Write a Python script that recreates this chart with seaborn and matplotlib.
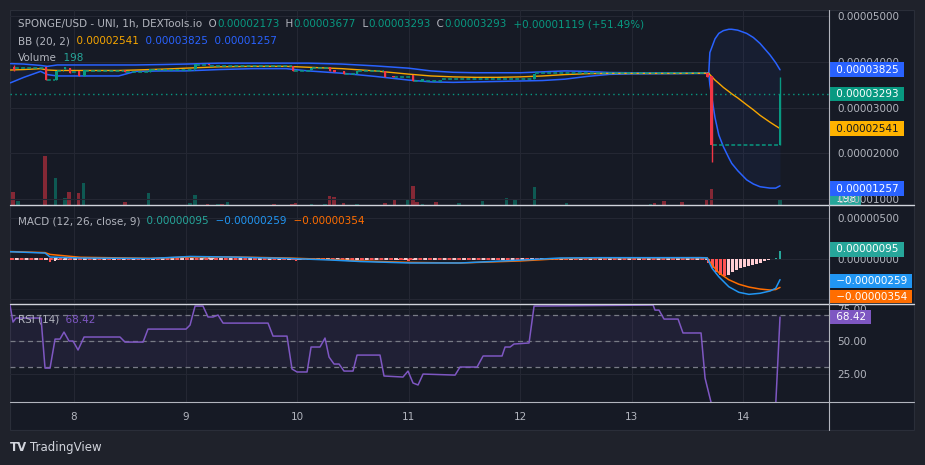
import matplotlib
matplotlib.use("Agg")
import matplotlib.pyplot as plt
from matplotlib.lines import Line2D
from matplotlib.patches import Rectangle
from matplotlib.transforms import Bbox, TransformedBbox
import numpy as np
import seaborn as sns

BG = "#161a25"
OUTER = "#1f222b"
GRID = "#242733"
GRAY = "#b2b5be"
SEP = "#d1d4dc"
UP = "#089981"
DOWN = "#f23645"
BB_BLUE = "#2962ff"
BB_MID = "#f7a600"
FS = 7.5

sns.set_theme(style="dark", rc={
    "axes.facecolor": BG, "figure.facecolor": OUTER, "grid.color": GRID,
    "text.color": GRAY, "xtick.color": GRAY, "ytick.color": GRAY,
    "axes.edgecolor": BG,
})
plt.rcParams["font.family"] = ["DejaVu Sans"]

# prices in 1e-5 USD, MACD in 1e-6, x in days of the month
candle_day = [7.462, 7.749, 7.839, 7.919, 7.964, 8.045, 8.090, 8.457, 8.681, 9.085,
              9.210, 9.963, 10.125, 10.295, 10.331, 10.420, 10.537, 10.788, 10.860,
              11.039, 11.120, 12.124, 13.675, 13.715, 14.329]
candle_open = [3.886, 3.886, 3.602, 3.836, 3.853, 3.792, 3.689, 3.80, 3.78, 3.842,
               3.951, 3.908, 3.81, 3.88, 3.81, 3.79, 3.74, 3.79, 3.69,
               3.718, 3.59, 3.630, 3.75, 3.689, 2.173]
candle_close = [3.820, 3.602, 3.799, 3.893, 3.755, 3.689, 3.820, 3.78, 3.84, 3.951,
                3.92, 3.805, 3.86, 3.80, 3.78, 3.74, 3.80, 3.67, 3.66,
                3.587, 3.62, 3.740, 3.67, 2.173, 3.293]
candle_high = [3.93, 3.886, 3.799, 3.893, 3.853, 3.792, 3.820, 3.80, 3.84, 3.951,
               3.951, 3.908, 3.86, 3.88, 3.81, 3.79, 3.80, 3.79, 3.69,
               3.718, 3.62, 3.740, 3.75, 3.689, 3.677]
candle_low = [3.80, 3.602, 3.602, 3.836, 3.755, 3.689, 3.689, 3.78, 3.78, 3.842,
              3.92, 3.805, 3.81, 3.80, 3.78, 3.74, 3.74, 3.67, 3.66,
              3.587, 3.59, 3.630, 3.67, 1.817, 2.173]

flat_start = [7.47, 7.76, 7.85, 7.98, 8.10, 8.47, 8.69, 9.09, 9.22, 9.97, 10.13,
              10.43, 10.55, 10.87, 11.05, 11.30, 12.13, 13.73]
flat_end = [7.74, 7.83, 7.91, 8.04, 8.45, 8.67, 9.08, 9.20, 9.95, 10.12, 10.29,
            10.53, 10.78, 11.03, 11.30, 12.12, 13.67, 14.32]
flat_price = [3.86, 3.60, 3.80, 3.78, 3.80, 3.78, 3.82, 3.93, 3.90, 3.805, 3.86,
              3.74, 3.79, 3.66, 3.59, 3.63, 3.745, 2.173]

bb_day = [7.43, 7.55, 7.70, 7.76, 7.85, 8.1, 8.4, 8.55, 8.8, 9.0, 9.3, 9.6, 9.9,
          10.1, 10.4, 10.7, 11.0, 11.2, 11.4, 11.6, 11.8, 12.0, 12.2, 12.4, 12.6,
          12.8, 13.0, 13.4, 13.69, 13.70, 13.746, 13.78, 13.821, 13.87, 13.896,
          13.95, 14.03, 14.09, 14.15, 14.239, 14.29, 14.329]
bb_upper = [3.96, 3.95, 3.92, 3.90, 3.93, 3.93, 3.93, 3.93, 3.94, 3.95, 3.97, 3.97,
            3.97, 3.97, 3.95, 3.91, 3.86, 3.80, 3.77, 3.76, 3.76, 3.76, 3.78, 3.80,
            3.79, 3.765, 3.76, 3.755, 3.755, 4.20, 4.50, 4.62, 4.68, 4.71, 4.71,
            4.69, 4.62, 4.53, 4.40, 4.15, 3.98, 3.825]
bb_basis = [3.82, 3.83, 3.85, 3.82, 3.81, 3.81, 3.81, 3.82, 3.84, 3.86, 3.89, 3.90,
            3.90, 3.88, 3.85, 3.80, 3.73, 3.69, 3.67, 3.66, 3.66, 3.67, 3.69, 3.72,
            3.74, 3.745, 3.745, 3.745, 3.75, 3.72, 3.60, 3.53, 3.44, 3.35, 3.30,
            3.21, 3.06, 2.95, 2.83, 2.68, 2.60, 2.541]
bb_lower = [3.54, 3.66, 3.79, 3.72, 3.69, 3.69, 3.69, 3.79, 3.80, 3.80, 3.83, 3.85,
            3.85, 3.80, 3.75, 3.68, 3.60, 3.56, 3.55, 3.56, 3.57, 3.58, 3.59, 3.62,
            3.68, 3.725, 3.735, 3.74, 3.745, 3.50, 2.78, 2.40, 2.145, 1.90, 1.78,
            1.62, 1.42, 1.33, 1.27, 1.24, 1.24, 1.29]

vol_day = [7.453, 7.498, 7.740, 7.834, 7.919, 7.955, 8.040, 8.085, 8.457, 8.668,
           9.040, 9.085, 9.197, 9.291, 9.327, 9.372, 9.793, 9.954, 9.990, 10.125,
           10.250, 10.290, 10.331, 10.416, 10.537, 10.788, 10.869, 10.994, 11.039,
           11.075, 11.120, 11.245, 11.451, 11.658, 11.873, 11.953, 12.124, 12.411,
           13.164, 13.200, 13.289, 13.450, 13.670, 13.715, 14.329]
vol_value = [420, 130, 1620, 890, 230, 430, 400, 730, 100, 400,
             66, 330, 35, 35, 35, 100, 35, 35, 66, 35,
             35, 300, 260, 66, 35, 66, 200, 165, 630,
             100, 35, 100, 66, 130, 230, 200, 590, 66,
             35, 66, 130, 100, 165, 530, 198]
vol_up = [0, 1, 0, 1, 1, 0, 0, 1, 0, 1,
          1, 1, 0, 1, 0, 1, 0, 0, 0, 1,
          1, 0, 0, 0, 1, 0, 0, 1, 0,
          0, 1, 0, 1, 1, 1, 1, 1, 1,
          1, 0, 0, 0, 0, 0, 1]

macd_day = [7.426, 7.740, 7.785, 8.054, 8.681, 9.040, 9.398, 9.936, 10.295, 10.564,
            11.012, 11.460, 12.000, 12.357, 12.715, 13.612, 13.675, 13.72, 13.78,
            13.87, 13.96, 14.05, 14.15, 14.24, 14.29, 14.329]
macd_line = [0.83, 0.67, 0.18, 0.06, 0.0, 0.25, 0.18, 0.0, -0.18, -0.37,
             -0.55, -0.55, -0.20, 0.06, 0.10, 0.10, 0.08, -1.2, -2.23,
             -3.46, -4.14, -4.39, -4.26, -3.98, -3.65, -2.59]
macd_signal = [0.85, 0.72, 0.50, 0.15, 0.02, 0.18, 0.20, 0.05, -0.12, -0.30,
               -0.48, -0.55, -0.30, -0.02, 0.08, 0.10, 0.09, -0.8, -1.75,
               -2.6, -3.15, -3.50, -3.74, -3.86, -3.80, -3.54]
hist_pre_day = [7.74, 7.785, 7.83, 7.87, 7.91, 7.96, 8.0, 9.17, 9.21, 9.25,
                9.95, 9.99, 10.03, 10.90, 10.95, 11.0, 11.04]
hist_pre = [-0.2, -0.45, -0.3, -0.2, -0.15, -0.15, -0.1, 0.2, 0.15, 0.1,
            -0.2, -0.25, -0.15, -0.15, -0.2, -0.25, -0.15]
hist_crash = [-0.6, -1.2, -1.63, -1.96, -2.12, -1.96, -1.63, -1.43, -1.22, -1.10,
              -0.94, -0.82, -0.65, -0.49, -0.33, -0.20, -0.12, 0.12, 0.95]

rsi_day = [7.426, 7.453, 7.480, 7.704, 7.740, 7.785, 7.830, 7.874, 7.910, 7.955,
           7.991, 8.036, 8.090, 8.412, 8.457, 8.619, 8.663, 9.004, 9.040, 9.085,
           9.156, 9.201, 9.246, 9.291, 9.336, 9.739, 9.784, 9.909, 9.954, 9.999,
           10.089, 10.125, 10.205, 10.250, 10.286, 10.331, 10.376, 10.420, 10.501,
           10.537, 10.743, 10.779, 10.949, 10.994, 11.039, 11.084, 11.129, 11.416,
           11.460, 11.613, 11.667, 11.837, 11.864, 11.909, 11.944, 12.079, 12.124,
           13.191, 13.208, 13.244, 13.289, 13.415, 13.459, 13.621, 13.657, 13.710,
           13.75, 14.29, 14.329]
rsi_value = [77.7, 64.6, 67.7, 67.7, 29.2, 29.2, 51.5, 51.5, 56.9, 50.0,
             50.0, 43.1, 53.1, 53.1, 49.2, 49.2, 59.2, 59.2, 62.3, 76.9,
             76.9, 68.5, 68.5, 70.0, 63.8, 63.8, 53.8, 53.8, 28.5, 26.2,
             26.2, 45.4, 45.4, 52.3, 37.7, 32.3, 32.3, 26.9, 26.9,
             39.2, 39.2, 23.1, 22.3, 26.9, 17.7, 16.2, 24.6, 23.8,
             30.0, 30.0, 38.5, 38.5, 45.4, 45.4, 47.7, 48.5, 76.9,
             77.7, 73.8, 73.8, 66.9, 66.9, 56.2, 56.2, 21.5, 3.0,
             0.5, 0.5, 68.42]

day_ticks = [8, 9, 10, 11, 12, 13, 14]
last_price = 3.293

W, H = 925, 465


def rect(x0, y0, x1, y1):
    return [x0 / W, 1 - y1 / H, (x1 - x0) / W, (y1 - y0) / H]


def fig_line(xs, ys, color=SEP, lw=1.0):
    fig.add_artist(Line2D([x / W for x in xs], [1 - y / H for y in ys],
                          color=color, lw=lw, zorder=5))


def legend_row(ax, y, parts):
    t = ax.text(8 / 819, y, parts[0][0], color=parts[0][1], fontsize=FS,
                transform=ax.transAxes, va="center", ha="left", zorder=8)
    for s, c in parts[1:]:
        t = ax.annotate(s, xy=(1, 0.5), xycoords=t, va="center", ha="left",
                        color=c, fontsize=FS, zorder=8)


def tag(ax, y, text, fc, tc="white", dy=0, clip=None):
    t = ax.annotate(" " + text + " ", xy=(1, y), xycoords=("axes fraction", "data"),
                    xytext=(2.6, dy), textcoords="offset points", va="center",
                    ha="left", fontsize=FS, color=tc, zorder=9,
                    bbox=dict(boxstyle="square,pad=0.22", fc=fc, ec="none"),
                    annotation_clip=False)
    if clip is not None:
        t.set_clip_box(clip)
        t.set_clip_on(True)
    return t


def hist_colors(values):
    cols, prev = [], 0.0
    for v in values:
        if v >= 0:
            cols.append("#26a69a" if v >= prev else "#b2dfdb")
        else:
            cols.append("#ff5252" if v < prev else "#ffcdd2")
        prev = v
    return cols


fig = plt.figure(figsize=(W / 100, H / 100), dpi=100)
fig.add_artist(Rectangle((10 / W, 1 - 430 / H), 904 / W, 420 / H,
                         transform=fig.transFigure, fc=BG, ec="#2a2e39",
                         lw=0.8, zorder=-1))

ax = fig.add_axes(rect(10, 10, 829, 205))
ax_macd = fig.add_axes(rect(10, 206, 829, 303))
ax_rsi = fig.add_axes(rect(10, 304, 829, 402))
axv = ax.twinx()

for a in (ax, ax_macd, ax_rsi, axv):
    a.set_facecolor("none")
    for s in a.spines.values():
        s.set_visible(False)
    a.set_xlim(7.426, 14.768)
ax.set_zorder(3)
axv.set_zorder(2)

for a in (ax, ax_macd, ax_rsi):
    a.set_xticks(day_ticks)
    a.grid(True, color=GRID, lw=0.8)
    a.yaxis.tick_right()
    a.tick_params(axis="y", length=0, pad=5.8, labelsize=FS, labelcolor=GRAY)
    a.tick_params(axis="x", length=0)
ax.tick_params(axis="x", labelbottom=False)
ax_macd.tick_params(axis="x", labelbottom=False)
ax_rsi.tick_params(axis="x", labelsize=FS, labelcolor=GRAY, pad=7)
ax_rsi.set_xticklabels([str(d) for d in day_ticks])

# ---- price panel ----
ax.set_ylim(0.871, 5.131)
ax.set_yticks([1, 2, 3, 4, 5])
ax.set_yticklabels([f"{v * 1e-5:.8f}" for v in [1, 2, 3, 4, 5]])

axv.set_ylim(0, 6435)
axv.set_yticks([])
axv.grid(False)
axv.bar(vol_day, vol_value, width=0.028,
        color=[UP if u else DOWN for u in vol_up], alpha=0.5, lw=0)

ax.fill_between(bb_day, bb_lower, bb_upper, color=BB_BLUE, alpha=0.06, lw=0)
sns.lineplot(x=bb_day, y=bb_upper, ax=ax, color=BB_BLUE, lw=1.1)
sns.lineplot(x=bb_day, y=bb_lower, ax=ax, color=BB_BLUE, lw=1.1)
sns.lineplot(x=bb_day, y=bb_basis, ax=ax, color=BB_MID, lw=1.0)

ax.hlines(flat_price, flat_start, flat_end, colors=UP, lw=1.1,
          linestyles=(0, (2.5, 1.5)), zorder=4)
ax.axhline(last_price, color=UP, lw=1.0, ls=(0, (1, 2.5)), zorder=2)

for d, o, h, l, c in zip(candle_day, candle_open, candle_high, candle_low, candle_close):
    col = UP if c >= o else DOWN
    ax.vlines(d, l, h, color=col, lw=1.0, zorder=5)
    ax.bar(d, max(abs(c - o), 0.03), bottom=min(o, c), width=0.026,
           color=col, lw=0, zorder=5)
ax.set_xlabel("")
ax.set_ylabel("")

legend_row(ax, 0.928, [("SPONGE/USD - UNI, 1h, DEXTools.io", GRAY), ("  O", GRAY),
                       ("0.00002173", UP), ("  H", GRAY), ("0.00003677", UP),
                       ("  L", GRAY), ("0.00003293", UP), ("  C", GRAY),
                       ("0.00003293", UP), ("  +0.00001119 (+51.49%)", UP)])
legend_row(ax, 0.841, [("BB (20, 2)", GRAY), ("  0.00002541", BB_MID),
                       ("  0.00003825", BB_BLUE), ("  0.00001257", BB_BLUE)])
legend_row(ax, 0.754, [("Volume", GRAY), ("  198", "#26a69a")])

main_clip = TransformedBbox(Bbox.from_extents(10 / W, 1 - 205 / H, 914 / W, 1 - 10 / H),
                            fig.transFigure)
tag(ax, bb_upper[-1], "0.00003825", BB_BLUE)
tag(ax, last_price, "0.00003293", UP)
tag(ax, bb_basis[-1], "0.00002541", "#ffb300", tc="#131722")
tag(ax, bb_lower[-1], "0.00001257", BB_BLUE, dy=-2)
tag(axv, vol_value[-1], "198", "#26a69a", clip=main_clip)

# ---- MACD panel ----
ax_macd.set_ylim(-5.45, 6.43)
ax_macd.set_yticks([5, 0, -5])
ax_macd.set_yticklabels([f"{v * 1e-6:.8f}" for v in [5, 0, -5]])
ax_macd.hlines(0, 7.43, 13.68, colors="#ff5252", lw=1.4, linestyles=(0, (2, 3)))
ax_macd.hlines(0, 7.43, 13.68, colors="#ffcdd2", lw=1.4, linestyles=(2.5, (2, 3)))
ax_macd.bar(hist_pre_day, hist_pre, width=0.025, color=hist_colors(hist_pre), lw=0)
crash_x = np.linspace(13.69, 14.329, len(hist_crash))
ax_macd.bar(crash_x, hist_crash, width=0.025, color=hist_colors(hist_crash), lw=0)
sns.lineplot(x=macd_day, y=macd_signal, ax=ax_macd, color="#ff6d00", lw=1.1)
sns.lineplot(x=macd_day, y=macd_line, ax=ax_macd, color="#2196f3", lw=1.1)
ax_macd.set_xlabel("")
ax_macd.set_ylabel("")
legend_row(ax_macd, 0.845, [("MACD (12, 26, close, 9)", GRAY), ("  0.00000095", "#26a69a"),
                            ("  \u22120.00000259", "#2196f3"),
                            ("  \u22120.00000354", "#ff6d00")])
macd_clip = TransformedBbox(Bbox.from_extents(10 / W, 1 - 303 / H, 914 / W, 1 - 206 / H),
                            fig.transFigure)
tag(ax_macd, hist_crash[-1], "0.00000095", "#26a69a", dy=1)
tag(ax_macd, macd_line[-1], "\u22120.00000259", "#2196f3", dy=-1)
tag(ax_macd, macd_signal[-1], "\u22120.00000354", "#ff6d00", dy=-7, clip=macd_clip)

# ---- RSI panel ----
ax_rsi.set_ylim(3.1, 78.5)
ax_rsi.set_yticks([25, 50, 75])
ax_rsi.set_yticklabels(["25.00", "50.00", "75.00"])
ax_rsi.axhspan(30, 70, color="#7e57c2", alpha=0.1, lw=0)
for lvl in (30, 50, 70):
    ax_rsi.axhline(lvl, color="#787b86", lw=0.9, ls=(0, (4, 3)))
sns.lineplot(x=rsi_day, y=rsi_value, ax=ax_rsi, color="#7e57c2", lw=1.1)
ax_rsi.set_xlabel("")
ax_rsi.set_ylabel("")
legend_row(ax_rsi, 0.837, [("RSI (14)", GRAY), ("  68.42", "#7e57c2")])
tag(ax_rsi, rsi_value[-1], "68.42", "#7e57c2")

# separators and frame lines
fig_line([10, 914], [205, 205])
fig_line([10, 914], [304, 304])
fig_line([10, 914], [402, 402], color="#b2b5be", lw=0.8)
fig_line([829, 829], [10, 430], color="#b2b5be", lw=0.8)

fig.text(10 / W, 1 - 447 / H, "TV", color="#d1d4dc", fontsize=8.5,
         fontweight="bold", va="center", ha="left")
fig.text(30 / W, 1 - 447 / H, "TradingView", color="#d1d4dc", fontsize=8.5,
         va="center", ha="left")

fig.savefig("out.png", dpi=100, facecolor=OUTER)
plt.close(fig)
